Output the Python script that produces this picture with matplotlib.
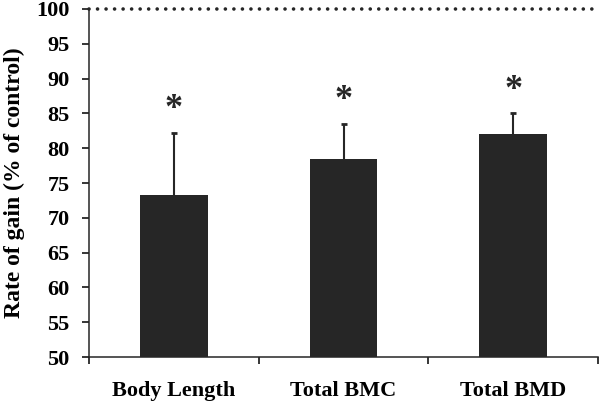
import matplotlib
matplotlib.use('Agg')
import matplotlib.pyplot as plt
import matplotlib.ticker as mticker

plt.rcParams['font.family'] = ['Liberation Serif', 'DejaVu Serif']
plt.rcParams['font.weight'] = 'bold'

# data
categories = ['Body Length', 'Total BMC', 'Total BMD']
means = [73.3, 78.5, 82.0]
err_up = [8.9, 5.0, 3.0]
star_gap = 3.3

fig = plt.figure(figsize=(6.0, 4.03), dpi=100)
ax = fig.add_axes([0.1483, 0.1141, 0.8484, 0.8636])

x = list(range(len(categories)))
tops = [m + e for m, e in zip(means, err_up)]
ax.bar(x, means, width=0.4, color='#262626', zorder=2)
ax.errorbar(x, means, yerr=[[0] * len(means), err_up], fmt='none',
            ecolor='#262626', elinewidth=1.5, capsize=0, zorder=3)
ax.plot(x, tops, linestyle='none', marker='_', markersize=5,
        markeredgewidth=2, color='#262626', zorder=3)

for i, t in zip(x, tops):
    ax.text(i, t + star_gap, '*', ha='center', va='center',
            fontsize=26, fontweight='bold', color='#262626')

# reference line at 100 %
ax.axhline(100, color='#262626', linewidth=2.6, linestyle=(0, (0.01, 2.35)),
           dash_capstyle='round', clip_on=False, zorder=4)

ax.set_xlim(-0.5, 2.5)
ax.set_ylim(50, 100)
ax.yaxis.set_major_locator(mticker.MultipleLocator(5))
ax.set_xticks(x)
ax.set_xticklabels(categories, fontsize=16, fontweight='bold')
ax.set_xticks([-0.5, 0.5, 1.5, 2.5], minor=True)
ax.tick_params(axis='x', which='major', length=0, pad=17)
ax.tick_params(axis='x', which='minor', length=5, width=1.1, direction='out')
ax.tick_params(axis='y', length=5, width=1.1, direction='out', labelsize=16, pad=9)
for lab in ax.get_yticklabels():
    lab.set_fontweight('bold')

ax.set_ylabel('Rate of gain (% of control)', fontsize=17, fontweight='bold', labelpad=8)

for s in ['top', 'right']:
    ax.spines[s].set_visible(False)
for s in ['left', 'bottom']:
    ax.spines[s].set_linewidth(1.1)
    ax.spines[s].set_color('#262626')

fig.savefig('out.png', dpi=100)
